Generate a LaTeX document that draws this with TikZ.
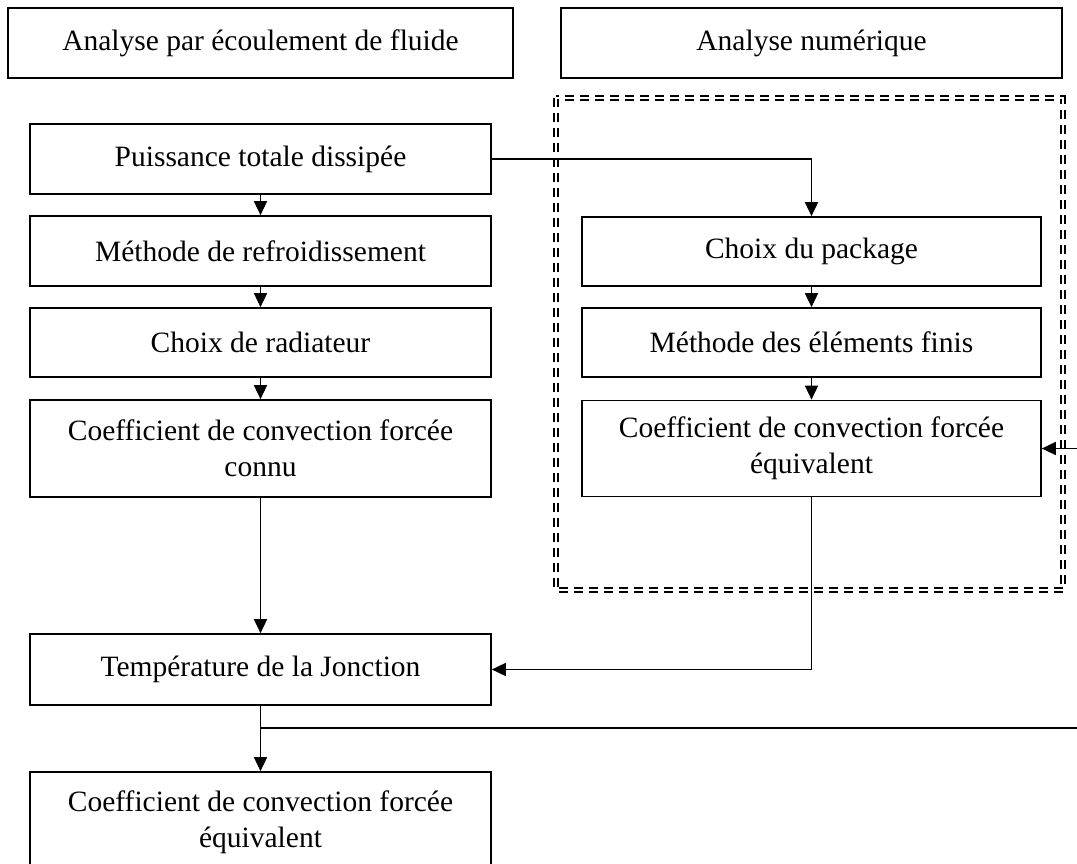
\documentclass[tikz,border=0pt]{standalone}
\usepackage{fontspec}
\setmainfont{Liberation Serif}
\usetikzlibrary{arrows.meta}
\begin{document}
\begin{tikzpicture}[x=1pt,y=-1pt,
  font=\fontsize{29.5}{36}\selectfont,
  box/.style={draw, line width=1.7pt, rectangle, inner sep=0pt, align=center, minimum width=461pt, minimum height=70pt},
  rbox/.style={box, minimum width=459pt},
  conn/.style={line width=1.7pt},
  arr/.style={conn, -{Triangle[length=14pt,width=13pt]}},
  dbl/.style={draw, line width=1.7pt, double distance=2pt, dash pattern=on 9pt off 6pt}]
\useasboundingbox (0,0) rectangle (1077,864);
\clip (0,0) rectangle (1077,864);
% headers
\node[box, minimum width=505pt] (h1) at (260.5,43) {Analyse par écoulement de fluide};
\node[box, minimum width=501pt] (h2) at (811.5,43) {Analyse numérique};
% dashed frame
\draw[dbl] (556,98) rectangle (1063,590);
% left column
\node[box] (p) at (260.5,159) {Puissance totale dissipée};
\node[box] (m) at (260.5,251) {Méthode de refroidissement};
\node[box, minimum height=69pt] (r) at (260.5,342.5) {Choix de radiateur};
\node[box, minimum height=97pt] (cc) at (260.5,448.5) {Coefficient de convection forcée\\connu};
\node[box, minimum height=71pt] (t) at (260.5,669.5) {Température de la Jonction};
\node[box, minimum height=100pt] (l) at (260.5,822) {Coefficient de convection forcée\\équivalent};
% right column
\node[rbox, minimum height=69pt] (cp) at (811.5,251.5) {Choix du package};
\node[rbox, minimum height=69pt] (me) at (811.5,342.5) {Méthode des éléments finis};
\node[rbox, minimum height=96pt] (ce) at (811.5,448.5) {Coefficient de convection forcée\\équivalent};
% connectors
\draw[arr] (p.south) -- (m.north);
\draw[arr] (m.south) -- (r.north);
\draw[arr] (r.south) -- (cc.north);
\draw[arr] (cc.south) -- (t.north);
\draw[arr] (t.south) -- (l.north);
\draw[arr] (p.east) -| (cp.north);
\draw[arr] (cp.south) -- (me.north);
\draw[arr] (me.south) -- (ce.north);
\draw[arr] (ce.south) |- (t.east);
\coordinate (ra) at (1077,448.5);
\draw[arr] (ra) -- (ce.east);
\coordinate (j) at (260.5,728);
\coordinate (je) at (1077,728);
\draw[conn] (j) -- (je);
\end{tikzpicture}
\end{document}
